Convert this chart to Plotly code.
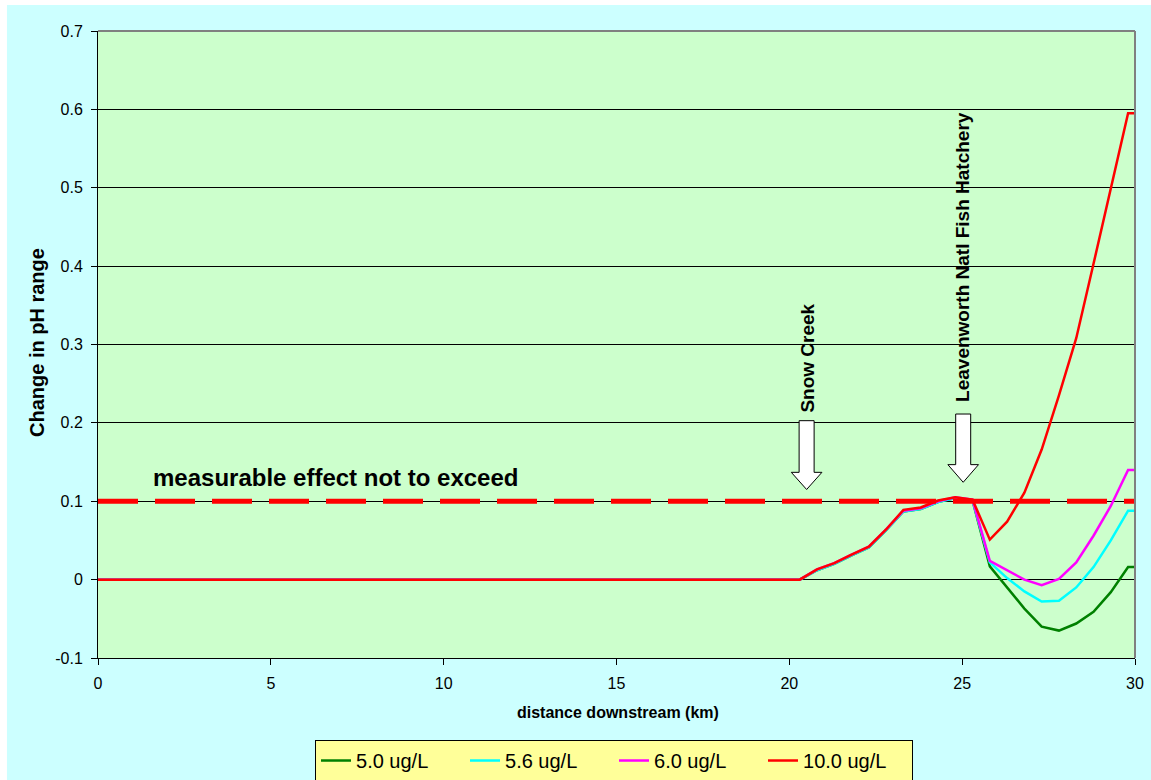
import plotly.graph_objects as go

# distance downstream (km)
distance_km = [0, 20.3, 20.8, 21.3, 21.8, 22.3, 22.8, 23.3, 23.8, 24.3, 24.8,
               25.3, 25.8, 26.3, 26.8, 27.3, 27.8, 28.3, 28.8, 29.3, 29.8, 30.0]

# change in pH range for each phosphorus scenario
ph_5_0 = [0, 0, 0.012, 0.020, 0.031, 0.041, 0.063, 0.087, 0.090, 0.099, 0.104,
          0.101, 0.017, -0.010, -0.037, -0.060, -0.065, -0.056, -0.041, -0.016, 0.016, 0.016]
ph_5_6 = [0, 0, 0.012, 0.020, 0.031, 0.041, 0.063, 0.087, 0.090, 0.099, 0.104,
          0.101, 0.022, 0.002, -0.015, -0.028, -0.027, -0.010, 0.016, 0.050, 0.088, 0.088]
ph_6_0 = [0, 0, 0.013, 0.021, 0.032, 0.042, 0.064, 0.088, 0.091, 0.100, 0.105,
          0.102, 0.024, 0.012, 0.000, -0.007, 0.001, 0.022, 0.056, 0.094, 0.140, 0.140]
ph_10_0 = [0, 0, 0.013, 0.021, 0.032, 0.042, 0.064, 0.089, 0.092, 0.101, 0.105,
           0.102, 0.051, 0.074, 0.111, 0.166, 0.235, 0.308, 0.403, 0.501, 0.595, 0.595]

series_names = ["5.0 ug/L", "5.6 ug/L", "6.0 ug/L", "10.0 ug/L"]
series_values = [ph_5_0, ph_5_6, ph_6_0, ph_10_0]
series_colors = ["#008000", "#00FFFF", "#FF00FF", "#FF0000"]

# measurable-effect threshold
threshold_x = [0, 30]
threshold_y = [0.1, 0.1]

x_ticks = [0, 5, 10, 15, 20, 25, 30]
y_ticks = [-0.1, 0, 0.1, 0.2, 0.3, 0.4, 0.5, 0.6, 0.7]
y_tick_text = ["-0.1", "0", "0.1", "0.2", "0.3", "0.4", "0.5", "0.6", "0.7"]

FONT = "Liberation Sans, Arial, sans-serif"

fig = go.Figure()
for name, vals, col in zip(series_names, series_values, series_colors):
    fig.add_trace(go.Scatter(x=distance_km, y=vals, mode="lines", name=name,
                             line=dict(color=col, width=2.5)))

fig.add_trace(go.Scatter(x=threshold_x, y=threshold_y, mode="lines", showlegend=False,
                         hoverinfo="skip",
                         line=dict(color="#FF0000", width=5, dash="40px,17px")))


def down_arrow(cx, y_top, y_head, y_tip, half_shaft=0.217, half_head=0.443):
    return (f"M {cx - half_shaft},{y_top} L {cx + half_shaft},{y_top} "
            f"L {cx + half_shaft},{y_head} L {cx + half_head},{y_head} "
            f"L {cx},{y_tip} L {cx - half_head},{y_head} "
            f"L {cx - half_shaft},{y_head} Z")


shapes = [
    dict(type="path", xref="x", yref="y", path=down_arrow(20.50, 0.2028, 0.1369, 0.1150),
         fillcolor="white", line=dict(color="black", width=1), layer="above"),
    dict(type="path", xref="x", yref="y", path=down_arrow(25.03, 0.2113, 0.1467, 0.1242),
         fillcolor="white", line=dict(color="black", width=1), layer="above"),
    # plot-area frame on top and right
    dict(type="line", xref="paper", yref="paper", x0=0, x1=1, y0=1, y1=1,
         line=dict(color="#808080", width=2)),
    dict(type="line", xref="paper", yref="paper", x0=1, x1=1, y0=0, y1=1,
         line=dict(color="#808080", width=2)),
    # white page edge strips
    dict(type="rect", xref="paper", yref="paper", x0=-0.2, x1=-0.0878, y0=-0.3, y1=1.2,
         fillcolor="white", line=dict(width=0)),
    dict(type="rect", xref="paper", yref="paper", x0=-0.2, x1=1.2, y0=1.0415, y1=1.2,
         fillcolor="white", line=dict(width=0)),
]

annotations = [
    dict(text="<b>measurable effect not to exceed</b>", x=6.86, y=0.130, xref="x", yref="y",
         showarrow=False, font=dict(family=FONT, size=24, color="black")),
    dict(text="<b>Snow Creek</b>", x=20.54, y=0.282, xref="x", yref="y", textangle=-90,
         showarrow=False, font=dict(family=FONT, size=19, color="black")),
    dict(text="<b>Leavenworth Natl Fish Hatchery</b>", x=25.03, y=0.412, xref="x", yref="y",
         textangle=-90, showarrow=False, font=dict(family=FONT, size=19, color="black")),
    dict(text="<b>distance downstream (km)</b>", x=0.5017, y=-0.0877, xref="paper",
         yref="paper", showarrow=False, yanchor="middle",
         font=dict(family=FONT, size=16, color="black")),
    dict(text="<b>Change in pH range</b>", x=-0.0588, y=0.5024, xref="paper", yref="paper",
         textangle=-90, showarrow=False, xanchor="center",
         font=dict(family=FONT, size=20, color="black")),
]

fig.update_layout(
    width=1151, height=780,
    margin=dict(l=98, r=16, t=31, b=122, autoexpand=False),
    paper_bgcolor="#CCFFFF",
    plot_bgcolor="#CCFFCC",
    font=dict(family=FONT, size=16, color="black"),
    shapes=shapes,
    annotations=annotations,
    showlegend=True,
    legend=dict(orientation="h", x=0.4976, xanchor="center", y=-0.1308, yanchor="top",
                bgcolor="#FFFF99", bordercolor="black", borderwidth=1,
                font=dict(family=FONT, size=20, color="black"),
                entrywidth=104, entrywidthmode="pixels", traceorder="normal"),
    xaxis=dict(range=[0, 30], tickvals=x_ticks, ticks="outside", ticklen=6,
               tickcolor="black", showgrid=False, zeroline=False, showline=True,
               linecolor="black", linewidth=1, tickfont=dict(size=16),
               ticklabelstandoff=5),
    yaxis=dict(range=[-0.1, 0.7], tickvals=y_ticks, ticktext=y_tick_text, ticks="outside",
               ticklen=6, tickcolor="black", showgrid=True, gridcolor="black", gridwidth=1,
               zeroline=False, showline=True, linecolor="black", linewidth=1,
               tickfont=dict(size=16), ticklabelstandoff=5),
)

fig.write_html("out.html")
